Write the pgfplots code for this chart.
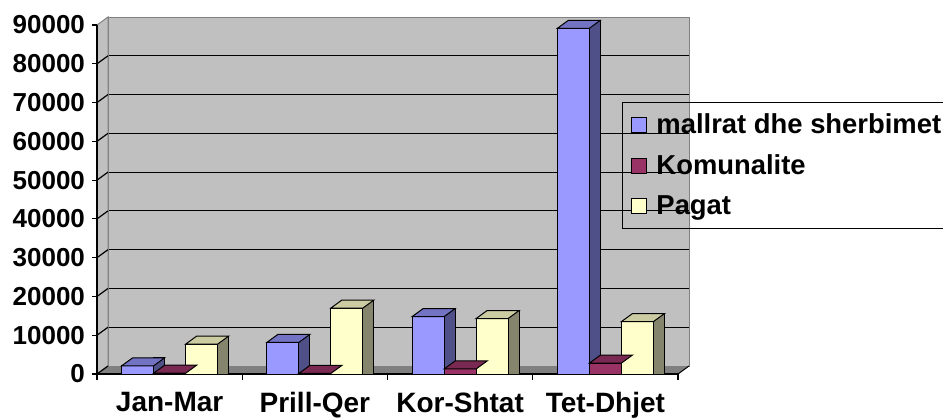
\documentclass[border=0pt]{standalone}
\usepackage{fontspec}
\setmainfont{Liberation Sans}
\usepackage{pgfplots}
\pgfplotsset{compat=1.18}
\usepackage{pgfplotstable}
\definecolor{wall}{HTML}{C0C0C0}
\definecolor{floorc}{HTML}{808080}
\definecolor{blueF}{HTML}{9999FF}
\definecolor{blueT}{HTML}{7373C4}
\definecolor{blueS}{HTML}{505088}
\definecolor{komF}{HTML}{993366}
\definecolor{komT}{HTML}{7A2952}
\definecolor{komS}{HTML}{5C1F3D}
\definecolor{yelF}{HTML}{FFFFCC}
\definecolor{yelT}{HTML}{CCCCA3}
\definecolor{yelS}{HTML}{85856E}
\pgfdeclareplotmark{topface}{%
 \pgfpathmoveto{\pgfqpoint{-8pt}{0pt}}%
 \pgfpathlineto{\pgfqpoint{8pt}{0pt}}%
 \pgfpathlineto{\pgfqpoint{13.5pt}{4pt}}%
 \pgfpathlineto{\pgfqpoint{-2.5pt}{4pt}}%
 \pgfpathclose
 \pgfusepathqfillstroke}
\pgfplotstableread{
x a b c
0 2100 200 7700
1 8150 150 17000
2 14800 1300 14300
3 89150 2800 13500
}\data
\pgfplotsset{myleg/.style={legend image code/.code={\draw[##1,draw=black,line width=0.5pt] (0pt,-3.75pt) rectangle (7.5pt,3.75pt);}}}
\begin{document}
\begin{tikzpicture}
\useasboundingbox (0,0) rectangle (471.5pt,209pt);
\begin{axis}[at={(54pt,26pt)}, anchor=south west, scale only axis,
  width=290.5pt, height=174.5pt, xmin=0, xmax=1, ymin=0, ymax=90000,
  axis background/.style={fill=wall},
  axis line style={draw=floorc, line width=0.5pt},
  xtick=\empty, ytick={10000,20000,...,80000}, yticklabels={}, scaled y ticks=false,
  ymajorgrids, major grid style={black, line width=0.6pt},
  major tick length=0pt, clip=false]
 \fill[floorc] (axis cs:0,0) -- (axis cs:1,0) -- ([shift={(-5.5pt,-4pt)}]axis cs:1,0) -- ([shift={(-5.5pt,-4pt)}]axis cs:0,0) -- cycle;
 \draw[black, line width=0.5pt] (axis cs:1,0) -- ([shift={(-5.5pt,-4pt)}]axis cs:1,0);
 \filldraw[fill=wall, draw=floorc, line width=0.5pt] (axis cs:0,0) -- (axis cs:0,90000) -- ([shift={(-5.5pt,-4pt)}]axis cs:0,90000) -- ([shift={(-5.5pt,-4pt)}]axis cs:0,0) -- cycle;
 \pgfplotsinvokeforeach{0,10000,20000,30000,40000,50000,60000,70000,80000}{
   \draw[black, line width=0.6pt] (axis cs:0,#1) -- ([shift={(-5.5pt,-4pt)}]axis cs:0,#1);
 }
\end{axis}
\begin{axis}[at={(48.5pt,22pt)}, anchor=south west, scale only axis,
  width=290.5pt, height=174.5pt, xmin=-0.5, xmax=3.5, ymin=0, ymax=90000,
  axis lines*=left, axis line style={black, line width=0.6pt},
  clip=false,
  ytick={0,10000,...,90000}, scaled y ticks=false,
  /pgf/number format/1000 sep={}, /pgf/number format/assume math mode=true,
  tick align=outside, major tick length=2.5pt, minor tick length=3pt,
  tick style={black, line width=0.6pt},
  xtick={0,1,2,3}, xticklabels={Jan-Mar,Prill-Qer,Kor-Shtat,Tet-Dhjet},
  minor xtick={-0.5,0.5,1.5,2.5,3.5},
  major x tick style={draw=none},
  yticklabel style={font=\fontsize{13}{15}\selectfont\bfseries},
  xticklabel style={font=\fontsize{14}{16}\selectfont\bfseries, yshift=-3pt},
  legend style={at={(axis description cs:0.9036,0.7794)}, anchor=north west,
    draw=black, fill=none, line width=0.5pt,
    font=\fontsize{13.7}{16}\selectfont\bfseries,
    inner xsep=4.5pt, inner ysep=3.5pt, row sep=5pt,
    /tikz/every odd column/.append style={column sep=2.5pt}},
  legend cell align=left,
  ybar, bar width=16pt]
 % series 1
 \addplot[ybar, bar width=5.5pt, bar shift=-5.25pt, fill=blueS, draw=black, line width=0.5pt, forget plot] table[x=x, y expr=\thisrow{a}+2063] {\data};
 \addplot[ybar, bar shift=-16pt, fill=blueF, draw=black, line width=0.5pt, myleg] table[x=x, y=a] {\data};
 \addlegendentry{mallrat dhe sherbimet}
 \addplot[only marks, mark=topface, mark options={fill=blueT, draw=black, line width=0.5pt}, forget plot] table[x expr=\thisrow{x}-0.2203, y=a] {\data};
 % series 2
 \addplot[ybar, bar width=5.5pt, bar shift=10.75pt, fill=komS, draw=black, line width=0.5pt, forget plot] table[x=x, y expr=\thisrow{b}+2063] {\data};
 \addplot[ybar, bar shift=0pt, fill=komF, draw=black, line width=0.5pt, myleg] table[x=x, y=b] {\data};
 \addlegendentry{Komunalite}
 \addplot[only marks, mark=topface, mark options={fill=komT, draw=black, line width=0.5pt}, forget plot] table[x=x, y=b] {\data};
 % series 3
 \addplot[ybar, bar width=5.5pt, bar shift=26.75pt, fill=yelS, draw=black, line width=0.5pt, forget plot] table[x=x, y expr=\thisrow{c}+2063] {\data};
 \addplot[ybar, bar shift=16pt, fill=yelF, draw=black, line width=0.5pt, myleg] table[x=x, y=c] {\data};
 \addlegendentry{Pagat}
 \addplot[only marks, mark=topface, mark options={fill=yelT, draw=black, line width=0.5pt}, forget plot] table[x expr=\thisrow{x}+0.2203, y=c] {\data};
\end{axis}
\end{tikzpicture}
\end{document}
